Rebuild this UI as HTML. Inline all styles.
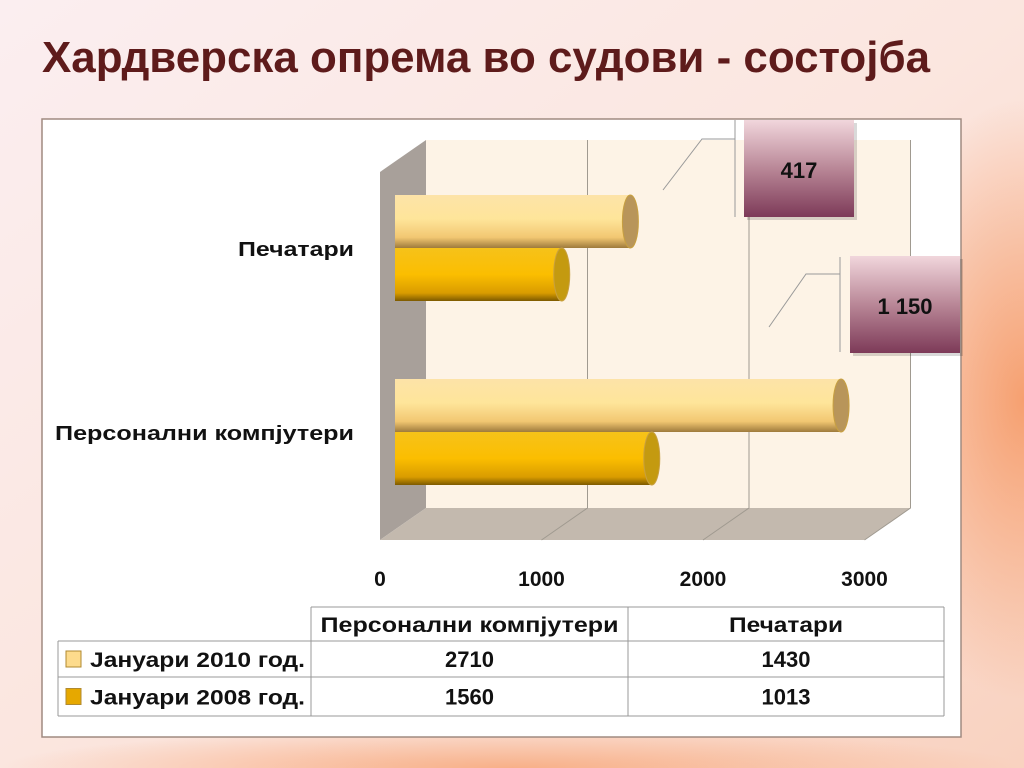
<!DOCTYPE html>
<html><head><meta charset="utf-8"><style>
html,body{margin:0;padding:0;width:1024px;height:768px;overflow:hidden}
svg{display:block}
text{font-family:"Liberation Sans",sans-serif;font-weight:bold}
</style></head><body>
<svg id="chart" width="1024" height="768" viewBox="0 0 1024 768">
<defs>
<linearGradient id="bg" x1="0" y1="0" x2="1" y2="1">
<stop offset="0" stop-color="#fbeef0"/><stop offset="0.5" stop-color="#fbe6df"/><stop offset="1" stop-color="#f9d2c0"/>
</linearGradient>
<radialGradient id="glowR" cx="1" cy="0.5" r="0.5">
<stop offset="0" stop-color="#f6a070"/><stop offset="1" stop-color="#f6a070" stop-opacity="0"/>
</radialGradient>
<radialGradient id="glowB" cx="0.5" cy="1" r="0.5">
<stop offset="0" stop-color="#f8b088"/><stop offset="1" stop-color="#f8b088" stop-opacity="0"/>
</radialGradient>
<linearGradient id="light" x1="0" y1="0" x2="0" y2="1">
<stop offset="0" stop-color="#fde3a8"/><stop offset="0.45" stop-color="#fee59a"/><stop offset="0.8" stop-color="#f2c772"/><stop offset="1" stop-color="#9e7a3c"/>
</linearGradient>
<linearGradient id="dark" x1="0" y1="0" x2="0" y2="1">
<stop offset="0" stop-color="#f6c21a"/><stop offset="0.5" stop-color="#fbbe00"/><stop offset="0.85" stop-color="#d99c00"/><stop offset="1" stop-color="#7d5a00"/>
</linearGradient>
<linearGradient id="callout" x1="0" y1="0" x2="0" y2="1">
<stop offset="0" stop-color="#f1d6dc"/><stop offset="0.5" stop-color="#b98797"/><stop offset="1" stop-color="#7d3a58"/>
</linearGradient>
</defs>
<rect x="0" y="0" width="1024" height="768" fill="url(#bg)"/>
<rect x="700" y="100" width="324" height="600" fill="url(#glowR)"/>
<rect x="0" y="690" width="1024" height="78" fill="url(#glowB)"/>
<text x="42" y="72" font-size="44" fill="#5e1b1b" font-weight="normal" textLength="888" lengthAdjust="spacingAndGlyphs">Хардверска опрема во судови - состојба</text>
<rect x="42" y="119" width="919" height="618" fill="#ffffff" stroke="#a08a80" stroke-width="1.5"/>
<g id="plot"></g>
<g id="table"></g>
</svg>
<script>
const categories = ["Персонални компјутери", "Печатари"];
const seriesNames = ["Јануари 2010 год.", "Јануари 2008 год."];
const series2010 = [2710, 1430];
const series2008 = [1560, 1013];
const ticks = [0, 1000, 2000, 3000];
const calloutLabels = ["417", "1 150"];

const NS = "http://www.w3.org/2000/svg";
function mk(tag, attrs, parent, txt) {
  const e = document.createElementNS(NS, tag);
  for (const k in attrs) e.setAttribute(k, attrs[k]);
  if (txt !== undefined) e.textContent = txt;
  parent.appendChild(e);
  return e;
}
const plot = document.getElementById("plot");
const table = document.getElementById("table");
const backX = v => 426 + v * 0.1615;
const frontX = v => 380 + v * 0.1615;
const barX = v => 395 + v * 0.1646;
let e;
e = mk("polygon", {points: "426,140 910,140 910,508 426,508", fill: "#fdf3e6"}, plot);


e = mk("polygon", {points: "380,172 426,140 426,508 380,540", fill: "#a8a09a"}, plot);


e = mk("polygon", {points: "380,540 426,508 910,508 864,540", fill: "#c3b9ae"}, plot);


ticks.forEach((t, i) => {
  if (i > 0) {
    const g = mk("path", {d: `M${backX(t)},140 V508 L${frontX(t)},540`, stroke: "#a09a90", "stroke-width": 1, fill: "none"}, plot);
    
    
  }
  const l = mk("text", {x: frontX(t), y: 586, "font-size": 21, fill: "#111", "text-anchor": "middle"}, plot, String(t));
  
  
});
const catY = [379, 195];
const bh = 53;
function cyl(val, y, fill, capFill, name) {
  const x1 = barX(val);
  const g = mk("g", {}, plot);
  
  
  mk("rect", {x: 395, y: y, width: x1 - 395, height: bh, fill: fill}, g);
  mk("ellipse", {cx: x1, cy: y + bh / 2, rx: 8, ry: bh / 2, fill: capFill, stroke: "#c8a040", "stroke-width": 1}, g);
}
categories.forEach((c, i) => {
  cyl(series2010[i], catY[i], "url(#light)", "#b8955a", "bar-2010-" + i);
  cyl(series2008[i], catY[i] + bh, "url(#dark)", "#c49a10", "bar-2008-" + i);
  const t = mk("text", {x: 354, y: catY[i] + bh + 8, "font-size": 20, fill: "#111", "text-anchor": "end", textLength: i === 0 ? 299 : 116, lengthAdjust: "spacingAndGlyphs"}, plot, c);
  
  
});
const callouts = [
  {x: 744, y: 120, w: 110, h: 97, lx: 735, ly0: 120, ly1: 217, hy: 139, hx: 702, dx: 663, dy: 190},
  {x: 850, y: 256, w: 110, h: 97, lx: 840, ly0: 257, ly1: 352, hy: 274, hx: 806, dx: 769, dy: 327}
];
callouts.forEach((c, i) => {
  const g = mk("g", {}, plot);
  
  
  mk("path", {d: `M${c.lx},${c.ly0} V${c.ly1} M${c.lx},${c.hy} H${c.hx} L${c.dx},${c.dy}`, stroke: "#999", fill: "none", "stroke-width": 1}, g);
  mk("rect", {x: c.x + 3, y: c.y + 3, width: c.w, height: c.h, fill: "#000", opacity: 0.15}, g);
  mk("rect", {x: c.x, y: c.y, width: c.w, height: c.h, fill: "url(#callout)"}, g);
  mk("text", {x: c.x + c.w / 2, y: c.y + 58, "font-size": 22, fill: "#111", "text-anchor": "middle"}, g, calloutLabels[i]);
});
const colX = [58, 311, 628, 944];
const rowY = [607, 641, 677, 716];
function line(x1, y1, x2, y2) { mk("line", {x1, y1, x2, y2, stroke: "#999", "stroke-width": 1}, table); }
line(311, 607, 944, 607);
line(58, 641, 944, 641); line(58, 677, 944, 677); line(58, 716, 944, 716);
line(58, 641, 58, 716); line(311, 607, 311, 716); line(628, 607, 628, 716); line(944, 607, 944, 716);
const hl = [298, 114];
categories.forEach((h, j) => {
  const t = mk("text", {x: (colX[j + 1] + colX[j + 2]) / 2, y: 632, "font-size": 21, fill: "#111", "text-anchor": "middle", textLength: hl[j], lengthAdjust: "spacingAndGlyphs"}, table, h);
  
  
});
const rows = [series2010, series2008];
const swatch = ["#fddb8c", "#e6a800"];
rows.forEach((r, i) => {
  const cy = (rowY[i + 1] + rowY[i + 2]) / 2;
  const s = mk("rect", {x: 66, y: cy - 8, width: 15, height: 16, fill: swatch[i], stroke: "#b08a30", "stroke-width": 1}, table);
  
  
  const t = mk("text", {x: 90, y: cy + 8, "font-size": 21, fill: "#111", textLength: 215, lengthAdjust: "spacingAndGlyphs"}, table, seriesNames[i]);
  
  
  r.forEach((v, j) => {
    const n = mk("text", {x: (colX[j + 1] + colX[j + 2]) / 2, y: cy + 8, "font-size": 22, fill: "#111", "text-anchor": "middle"}, table, String(v));
    
    
  });
});
</script>
</body></html>
